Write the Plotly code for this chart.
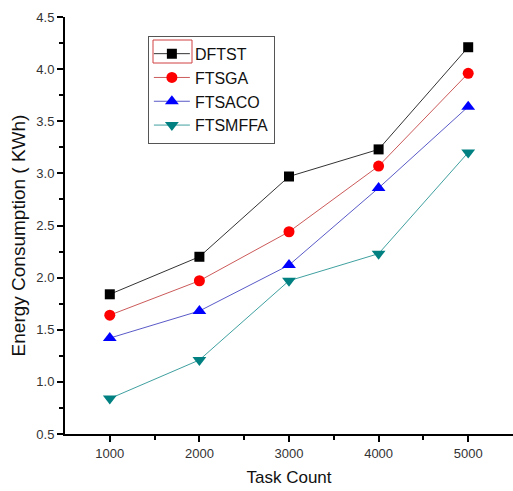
import plotly.graph_objects as go

task_count = [1000, 2000, 3000, 4000, 5000]
dftst = [1.84, 2.20, 2.97, 3.23, 4.21]
ftsga = [1.64, 1.97, 2.44, 3.07, 3.96]
ftsaco = [1.42, 1.68, 2.12, 2.86, 3.64]
ftsmffa = [0.84, 1.21, 1.97, 2.23, 3.20]

series = [
    ("DFTST", dftst, "#000000", "#333333", "square", 10),
    ("FTSGA", ftsga, "#ff0000", "#cc5a5a", "circle", 11),
    ("FTSACO", ftsaco, "#0000ff", "#5a5ac8", "triangle-up", 12),
    ("FTSMFFA", ftsmffa, "#008080", "#40a0a0", "triangle-down", 12),
]

fig = go.Figure()
for name, vals, mc, lc, sym, sz in series:
    fig.add_trace(go.Scatter(
        x=task_count, y=vals, name=name, mode="lines+markers",
        line=dict(color=lc, width=1),
        marker=dict(symbol=sym, color=mc, size=sz),
    ))

fig.update_layout(
    width=513, height=491,
    margin=dict(l=65, r=0, t=17, b=57),
    plot_bgcolor="white", paper_bgcolor="white",
    font=dict(family="Liberation Sans, Arial, sans-serif", color="#222222"),
    legend=dict(
        x=0.185, y=0.955, xanchor="left", yanchor="top",
        bordercolor="#555555", borderwidth=1, bgcolor="rgba(255,255,255,0)",
        font=dict(size=16, color="#111111"),
        tracegroupgap=0, itemwidth=36,
    ),
    shapes=[dict(type="rect", xref="paper", yref="paper",
                 x0=(153 - 65) / 448, x1=(192 - 65) / 448,
                 y0=(434 - 63) / 417, y1=(434 - 40) / 417,
                 line=dict(color="#d04040", width=1), fillcolor="rgba(0,0,0,0)")],
    annotations=[dict(text="Energy Consumption ( KWh)", textangle=-90,
                      xref="paper", yref="paper", x=-0.104, y=(434 - 235) / 417,
                      xanchor="center", yanchor="middle", showarrow=False,
                      font=dict(size=19, color="#111111"))],
    xaxis=dict(
        range=[500, 5500], tickvals=task_count,
        ticks="outside", ticklen=6, tickwidth=1.5, tickcolor="black",
        minor=dict(tickvals=[1500, 2500, 3500, 4500], ticks="outside", ticklen=4, tickwidth=1.5, tickcolor="black"),
        showline=True, linecolor="black", linewidth=2, showgrid=False, zeroline=False,
        tickfont=dict(size=13, color="#333333"),
        title=dict(text="Task Count", font=dict(size=17, color="#111111"), standoff=12),
    ),
    yaxis=dict(
        range=[0.5, 4.5], tickvals=[0.5, 1.0, 1.5, 2.0, 2.5, 3.0, 3.5, 4.0, 4.5],
        ticktext=["0.5", "1.0", "1.5", "2.0", "2.5", "3.0", "3.5", "4.0", "4.5"],
        ticks="outside", ticklen=6, tickwidth=1.5, tickcolor="black",
        minor=dict(tickvals=[0.75, 1.25, 1.75, 2.25, 2.75, 3.25, 3.75, 4.25], ticks="outside", ticklen=4, tickwidth=1.5, tickcolor="black"),
        showline=True, linecolor="black", linewidth=2, showgrid=False, zeroline=False,
        tickfont=dict(size=13, color="#333333"),
    ),
)

fig.write_html("out.html")
